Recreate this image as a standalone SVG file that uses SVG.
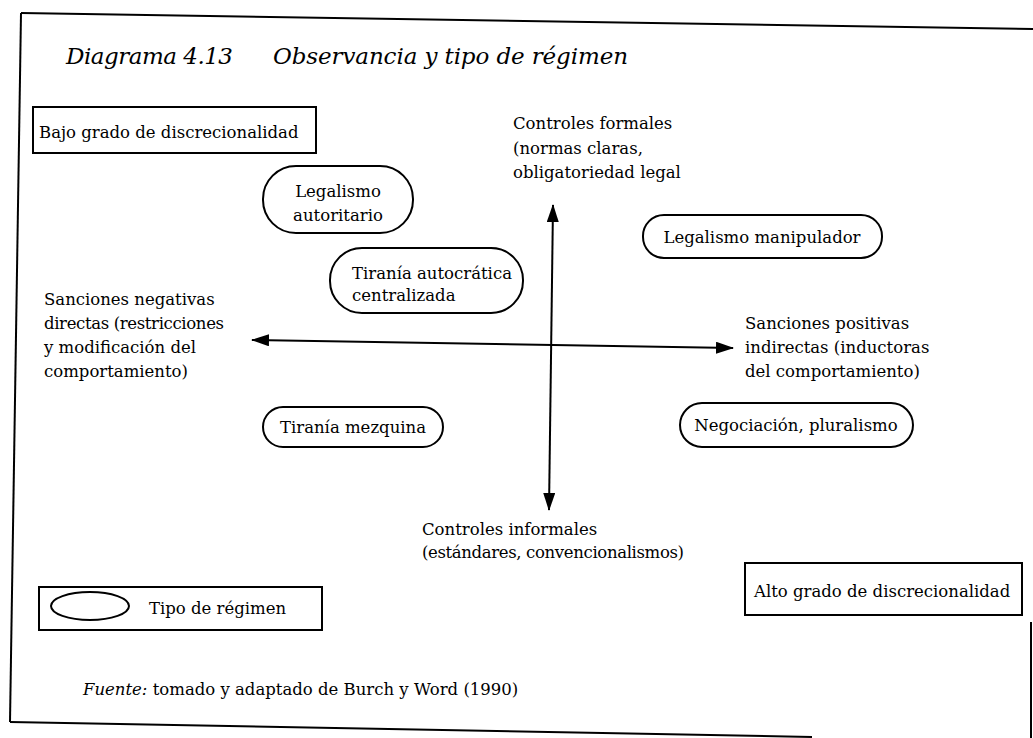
<svg xmlns="http://www.w3.org/2000/svg" width="1033" height="738" viewBox="0 0 1033 738">
<style>
  .t { font-family: "DejaVu Serif", "Liberation Serif", serif; font-size: 16.5px; fill: #000; }
  .ti { font-family: "DejaVu Serif", "Liberation Serif", serif; font-style: italic; font-size: 23px; fill: #000; }
  .node { fill: #fff; stroke: #000; stroke-width: 2; }
  .frame { stroke: #000; stroke-width: 2; fill: none; }
  .axis { stroke: #000; stroke-width: 2; fill: none; }
</style>
<defs>
  <marker id="arr" viewBox="0 0 18 12" refX="17" refY="6" markerWidth="18" markerHeight="12" markerUnits="userSpaceOnUse" orient="auto-start-reverse">
    <path d="M0,0 L18,6 L0,12 Z" fill="#000"/>
  </marker>
</defs>
<rect width="1033" height="738" fill="#fff"/>
<g id="frame">
  <line class="frame" x1="21" y1="13" x2="1033" y2="29"/>
  <line class="frame" x1="21" y1="13" x2="10" y2="722"/>
  <line class="frame" x1="10" y1="722" x2="812" y2="737"/>
  <line class="frame" x1="1031" y1="622" x2="1031" y2="738"/>
</g>
<g id="title">
  <text class="ti" x="66" y="64" textLength="167">Diagrama 4.13</text>
  <text class="ti" x="273" y="64" textLength="355">Observancia y tipo de régimen</text>
</g>
<g id="connectors">
  <line class="axis" x1="252" y1="340" x2="733" y2="348" marker-start="url(#arr)" marker-end="url(#arr)"/>
  <line class="axis" x1="553" y1="205" x2="549" y2="510" marker-start="url(#arr)" marker-end="url(#arr)"/>
</g>
<g id="bajo">
  <rect class="node" x="33" y="107" width="283" height="46"/>
  <text class="t" x="39" y="138">Bajo grado de discrecionalidad</text>
</g>
<g id="controles-formales">
  <text class="t" x="513" y="129">Controles formales</text>
  <text class="t" x="513" y="154">(normas claras,</text>
  <text class="t" x="513" y="178">obligatoriedad legal</text>
</g>
<g id="legalismo-autoritario">
  <rect class="node" x="263" y="166" width="150" height="67" rx="33" ry="33"/>
  <text class="t" x="338" y="197" text-anchor="middle">Legalismo</text>
  <text class="t" x="338" y="221" text-anchor="middle">autoritario</text>
</g>
<g id="tirania-autocratica">
  <rect class="node" x="330" y="248" width="193" height="65" rx="32" ry="32"/>
  <text class="t" x="352" y="279">Tiranía autocrática</text>
  <text class="t" x="352" y="301">centralizada</text>
</g>
<g id="legalismo-manipulador">
  <rect class="node" x="643" y="215" width="239" height="43" rx="21" ry="21"/>
  <text class="t" x="762" y="243" text-anchor="middle">Legalismo manipulador</text>
</g>
<g id="sanciones-negativas">
  <text class="t" x="44" y="305">Sanciones negativas</text>
  <text class="t" x="44" y="329" textLength="180">directas (restricciones</text>
  <text class="t" x="44" y="353">y modificación del</text>
  <text class="t" x="44" y="377">comportamiento)</text>
</g>
<g id="sanciones-positivas">
  <text class="t" x="745" y="329">Sanciones positivas</text>
  <text class="t" x="745" y="353">indirectas (inductoras</text>
  <text class="t" x="745" y="377">del comportamiento)</text>
</g>
<g id="tirania-mezquina">
  <rect class="node" x="263" y="407" width="180" height="40" rx="20" ry="20"/>
  <text class="t" x="353" y="433" text-anchor="middle">Tiranía mezquina</text>
</g>
<g id="negociacion">
  <rect class="node" x="680" y="403" width="233" height="44" rx="22" ry="22"/>
  <text class="t" x="796" y="431" text-anchor="middle">Negociación, pluralismo</text>
</g>
<g id="controles-informales">
  <text class="t" x="422" y="535">Controles informales</text>
  <text class="t" x="422" y="558" textLength="262">(estándares, convencionalismos)</text>
</g>
<g id="alto">
  <rect class="node" x="745" y="563" width="277" height="52"/>
  <text class="t" x="754" y="597">Alto grado de discrecionalidad</text>
</g>
<g id="leyenda">
  <rect class="node" x="39" y="587" width="283" height="43"/>
  <ellipse class="node" cx="90" cy="606" rx="39" ry="14"/>
  <text class="t" x="149" y="614">Tipo de régimen</text>
</g>
<g id="fuente">
  <text class="t" x="83" y="695"><tspan font-style="italic">Fuente:</tspan> tomado y adaptado de Burch y Word (1990)</text>
</g>
</svg>
